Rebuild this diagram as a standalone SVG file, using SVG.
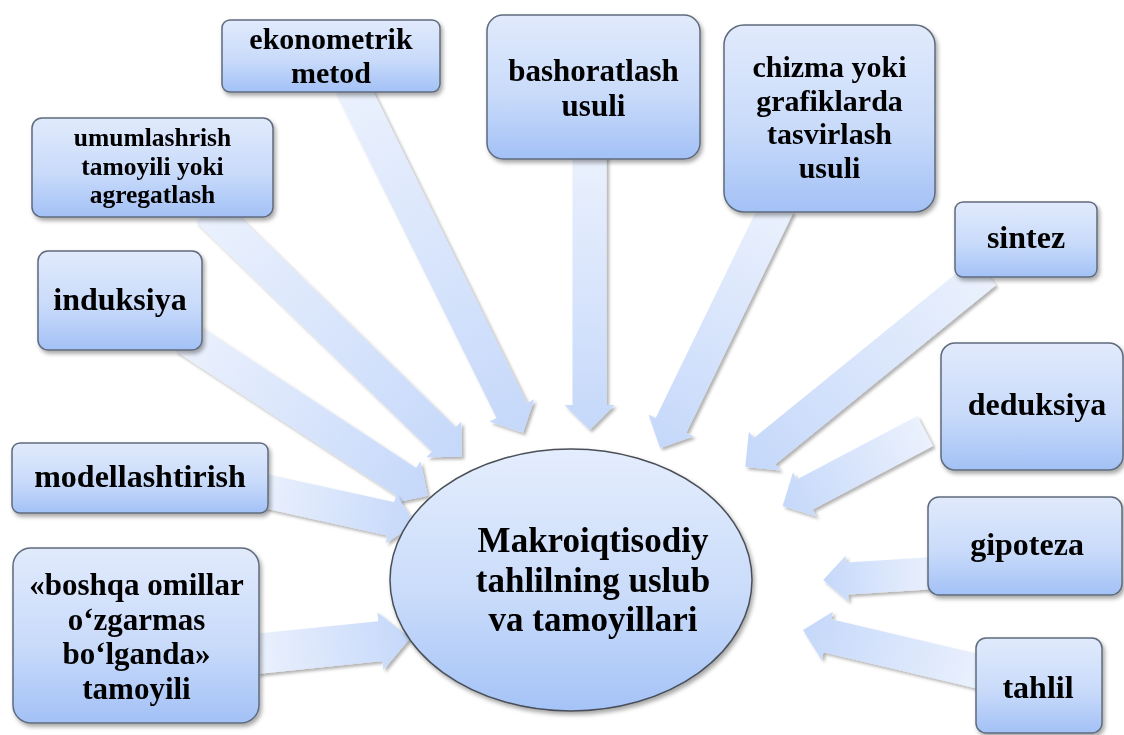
<svg xmlns="http://www.w3.org/2000/svg" width="1124" height="735" viewBox="0 0 1124 735">
<defs>
<linearGradient id="boxg" x1="0" y1="0" x2="0" y2="1">
<stop offset="0" stop-color="#e1eafc"/>
<stop offset="0.55" stop-color="#c9dbfa"/>
<stop offset="1" stop-color="#a3c1f6"/>
</linearGradient>
<linearGradient id="ellg" x1="0" y1="0" x2="0" y2="1">
<stop offset="0" stop-color="#e4edfd"/>
<stop offset="0.55" stop-color="#cadcfa"/>
<stop offset="1" stop-color="#a5c3f7"/>
</linearGradient>
<linearGradient id="arrg" x1="0" y1="0" x2="1" y2="0">
<stop offset="0" stop-color="#ebf1fd"/>
<stop offset="1" stop-color="#c5d8fa"/>
</linearGradient>
<filter id="sh" x="-20%" y="-20%" width="140%" height="140%">
<feDropShadow dx="2" dy="3" stdDeviation="2" flood-color="#000" flood-opacity="0.35"/>
</filter>
<filter id="ash" x="-20%" y="-20%" width="140%" height="140%">
<feDropShadow dx="2.5" dy="2.5" stdDeviation="1.8" flood-color="#000" flood-opacity="0.3"/>
</filter>
</defs>
<style>
.box{fill:url(#boxg);stroke:#5f6b7c;stroke-width:1.5;}
.arr{fill:url(#arrg);}
.t{font-family:"Liberation Serif","Times New Roman","DejaVu Serif",serif;font-weight:bold;fill:#000;text-anchor:middle;}
.t32{font-size:32px;}
.t30{font-size:30px;}
.t31{font-size:31px;}
.t25{font-size:25.5px;}
.t35{font-size:35px;}
</style>

<g id="connectors">
<g filter="url(#ash)"><path class="arr" transform="translate(589.5,150) rotate(90)" d="M0,-17 L255,-17 L255,-25 L280,0 L255,25 L255,17 L0,17 Z"/></g>
<g filter="url(#ash)"><path class="arr" transform="translate(351,85) rotate(63.7)" d="M0,-17 L363,-17 L363,-25 L388,0 L363,25 L363,17 L0,17 Z"/></g>
<g filter="url(#ash)"><path class="arr" transform="translate(208,210) rotate(44.2)" d="M0,-17 L329,-17 L329,-25 L354,0 L329,25 L329,17 L0,17 Z"/></g>
<g filter="url(#ash)"><path class="arr" transform="translate(185,337) rotate(33.2)" d="M0,-17 L265,-17 L265,-25 L290,0 L265,25 L265,17 L0,17 Z"/></g>
<g filter="url(#ash)"><path class="arr" transform="translate(260,490) rotate(12.4)" d="M0,-17 L134,-17 L134,-25 L159,0 L134,25 L134,17 L0,17 Z"/></g>
<g filter="url(#ash)"><path class="arr" transform="translate(255,654) rotate(-5.9)" d="M0,-20 L126,-20 L126,-29 L156,0 L126,29 L126,20 L0,20 Z"/></g>
<g filter="url(#ash)"><path class="arr" transform="translate(778,205) rotate(115.9)" d="M0,-17 L245,-17 L245,-25 L270,0 L245,25 L245,17 L0,17 Z"/></g>
<g filter="url(#ash)"><path class="arr" transform="translate(985,272) rotate(140.9)" d="M0,-17 L284,-17 L284,-25 L309,0 L284,25 L284,17 L0,17 Z"/></g>
<g filter="url(#ash)"><path class="arr" transform="translate(925,431) rotate(152.2)" d="M0,-17 L136,-17 L136,-25 L161,0 L136,25 L136,17 L0,17 Z"/></g>
<g filter="url(#ash)"><path class="arr" transform="translate(935,573) rotate(176.4)" d="M0,-16 L88,-16 L88,-23 L112,0 L88,23 L88,16 L0,16 Z"/></g>
<g filter="url(#ash)"><path class="arr" transform="translate(985,673) rotate(193.3)" d="M0,-17 L162,-17 L162,-25 L187,0 L162,25 L162,17 L0,17 Z"/></g>
</g>

<g id="n-ekonometrik" filter="url(#sh)">
<rect class="box" x="222" y="20" width="218" height="72" rx="8"/>
<text class="t t30" x="331" y="49">ekonometrik</text>
<text class="t t30" x="331" y="83">metod</text>
</g>
<g id="n-umumlashrish" filter="url(#sh)">
<rect class="box" x="32" y="118" width="241" height="99" rx="10"/>
<text class="t t25" x="152.5" y="146">umumlashrish</text>
<text class="t t25" x="152.5" y="174.5">tamoyili yoki</text>
<text class="t t25" x="152.5" y="203">agregatlash</text>
</g>
<g id="n-induksiya" filter="url(#sh)">
<rect class="box" x="38" y="251" width="164" height="99" rx="10"/>
<text class="t t32" x="120" y="310">induksiya</text>
</g>
<g id="n-modellashtirish" filter="url(#sh)">
<rect class="box" x="12" y="443" width="256" height="70" rx="8"/>
<text class="t t32" x="140" y="487">modellashtirish</text>
</g>
<g id="n-boshqa" filter="url(#sh)">
<rect class="box" x="13" y="548" width="246" height="175" rx="18"/>
<text class="t t31" x="136.5" y="595">«boshqa omillar</text>
<text class="t t31" x="136.5" y="629.5">o‘zgarmas</text>
<text class="t t31" x="136.5" y="664">bo‘lganda»</text>
<text class="t t31" x="136.5" y="698.5">tamoyili</text>
</g>
<g id="n-bashoratlash" filter="url(#sh)">
<rect class="box" x="487" y="15" width="213" height="144" rx="16"/>
<text class="t t31" x="593.5" y="81">bashoratlash</text>
<text class="t t31" x="593.5" y="115.5">usuli</text>
</g>
<g id="n-chizma" filter="url(#sh)">
<rect class="box" x="724" y="25" width="211" height="187" rx="20"/>
<text class="t t30" x="829.5" y="77">chizma yoki</text>
<text class="t t30" x="829.5" y="110.5">grafiklarda</text>
<text class="t t30" x="829.5" y="144">tasvirlash</text>
<text class="t t30" x="829.5" y="177.5">usuli</text>
</g>
<g id="n-sintez" filter="url(#sh)">
<rect class="box" x="955" y="202" width="142" height="75" rx="8"/>
<text class="t t32" x="1026" y="248">sintez</text>
</g>
<g id="n-deduksiya" filter="url(#sh)">
<rect class="box" x="941" y="343" width="182" height="127" rx="14"/>
<text class="t t32" x="1037" y="415">deduksiya</text>
</g>
<g id="n-gipoteza" filter="url(#sh)">
<rect class="box" x="928" y="497" width="194" height="98" rx="11"/>
<text class="t t32" x="1027" y="555">gipoteza</text>
</g>
<g id="n-tahlil" filter="url(#sh)">
<rect class="box" x="976" y="638" width="126" height="95" rx="10"/>
<text class="t t32" x="1038" y="698">tahlil</text>
</g>
<g id="n-center" filter="url(#sh)">
<ellipse cx="571" cy="580" rx="181" ry="131" fill="url(#ellg)" stroke="#4a4f58" stroke-width="1.5"/>
<text class="t t35" x="593" y="552">Makroiqtisodiy</text>
<text class="t t35" x="593" y="591.5">tahlilning uslub</text>
<text class="t t35" x="593" y="631">va tamoyillari</text>
</g>
</svg>
